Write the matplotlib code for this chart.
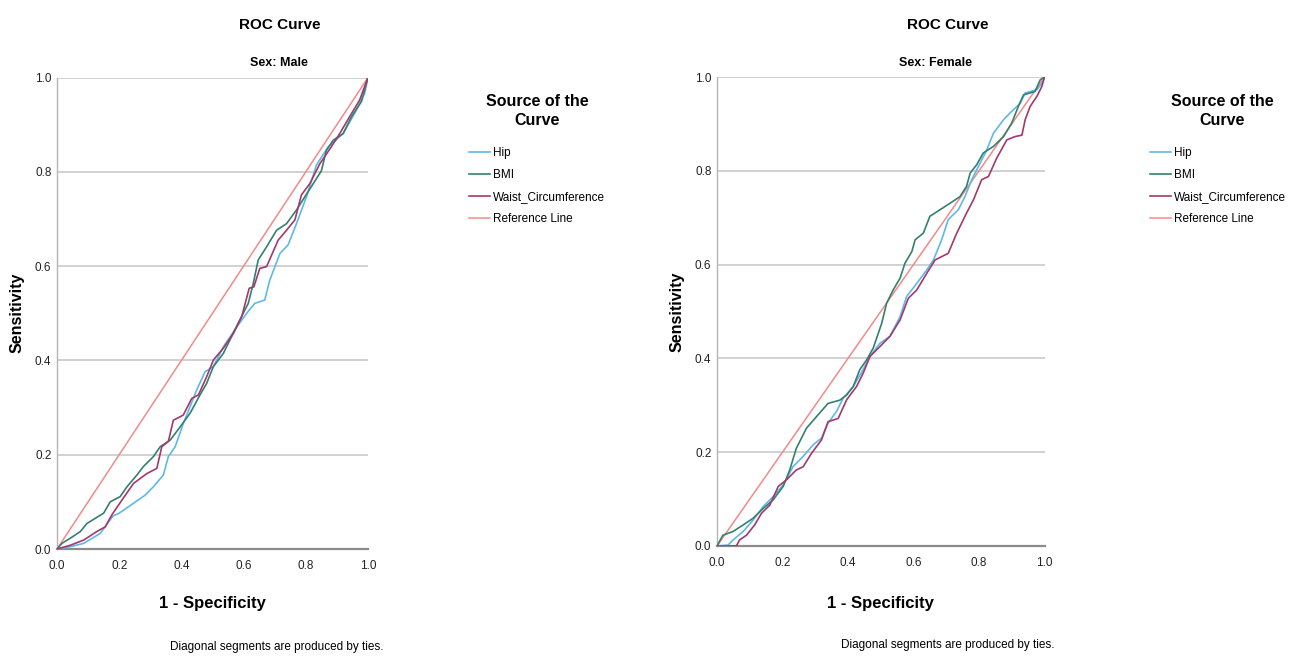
import matplotlib
matplotlib.use("Agg")
import matplotlib.pyplot as plt

plt.rcParams['font.family'] = ['Liberation Sans', 'DejaVu Sans']

# ---------------- data ----------------
tick_vals = [0.0, 0.2, 0.4, 0.6, 0.8, 1.0]
tick_labels = ["0.0", "0.2", "0.4", "0.6", "0.8", "1.0"]
series_names = ["Hip", "BMI", "Waist_Circumference", "Reference Line"]
panel_titles = ["Sex: Male", "Sex: Female"]

# Male
male_hip_x = [0, 0.043, 0.086, 0.139, 0.18, 0.20, 0.246, 0.283, 0.31, 0.342, 0.358, 0.38, 0.406, 0.428,
              0.449, 0.476, 0.503, 0.535, 0.578, 0.61, 0.636, 0.668, 0.684, 0.717, 0.743, 0.77, 0.802,
              0.834, 0.872, 0.92, 0.957, 0.989, 1.0]
male_hip_y = [0, 0.005, 0.012, 0.033, 0.07, 0.076, 0.097, 0.114, 0.132, 0.157, 0.196, 0.217, 0.266, 0.302,
              0.337, 0.376, 0.387, 0.429, 0.471, 0.50, 0.521, 0.528, 0.57, 0.627, 0.645, 0.69, 0.747,
              0.814, 0.853, 0.881, 0.924, 0.966, 1.0]
male_bmi_x = [0, 0.016, 0.043, 0.075, 0.096, 0.123, 0.15, 0.171, 0.203, 0.225, 0.257, 0.278, 0.31, 0.332,
              0.364, 0.396, 0.428, 0.46, 0.481, 0.503, 0.535, 0.561, 0.588, 0.615, 0.631, 0.647, 0.674,
              0.706, 0.738, 0.77, 0.797, 0.824, 0.85, 0.866, 0.888, 0.92, 0.947, 0.979, 1.0]
male_bmi_y = [0, 0.012, 0.023, 0.037, 0.054, 0.065, 0.076, 0.10, 0.111, 0.132, 0.157, 0.175, 0.196, 0.217,
              0.231, 0.259, 0.288, 0.327, 0.351, 0.387, 0.415, 0.45, 0.486, 0.521, 0.563, 0.613, 0.641,
              0.676, 0.69, 0.719, 0.747, 0.775, 0.802, 0.845, 0.867, 0.881, 0.917, 0.949, 1.0]
male_waist_x = [0, 0.043, 0.086, 0.128, 0.155, 0.176, 0.209, 0.246, 0.289, 0.321, 0.337, 0.358, 0.374,
                0.406, 0.433, 0.455, 0.481, 0.503, 0.535, 0.567, 0.594, 0.618, 0.633, 0.652, 0.674, 0.711,
                0.738, 0.765, 0.786, 0.813, 0.845, 0.882, 0.909, 0.941, 0.973, 1.0]
male_waist_y = [0, 0.008, 0.019, 0.037, 0.047, 0.072, 0.104, 0.139, 0.16, 0.171, 0.217, 0.228, 0.273,
                0.284, 0.319, 0.327, 0.365, 0.401, 0.426, 0.457, 0.493, 0.553, 0.556, 0.595, 0.599, 0.655,
                0.676, 0.698, 0.751, 0.775, 0.817, 0.853, 0.881, 0.917, 0.952, 1.0]

# Female
female_hip_x = [0, 0.034, 0.049, 0.08, 0.11, 0.141, 0.171, 0.202, 0.232, 0.263, 0.294, 0.319, 0.339, 0.365,
                0.385, 0.416, 0.446, 0.467, 0.497, 0.528, 0.559, 0.579, 0.61, 0.641, 0.661, 0.686, 0.706,
                0.737, 0.757, 0.778, 0.803, 0.824, 0.844, 0.875, 0.90, 0.926, 0.941, 0.977, 0.992, 1.0]
female_hip_y = [0, 0.002, 0.013, 0.031, 0.055, 0.084, 0.105, 0.13, 0.169, 0.191, 0.216, 0.23, 0.262, 0.287,
                0.315, 0.34, 0.376, 0.404, 0.432, 0.447, 0.489, 0.532, 0.56, 0.589, 0.61, 0.653, 0.696,
                0.717, 0.745, 0.781, 0.816, 0.845, 0.88, 0.909, 0.927, 0.944, 0.966, 0.973, 0.987, 1.0]
female_bmi_x = [0, 0.018, 0.049, 0.08, 0.11, 0.141, 0.171, 0.202, 0.222, 0.242, 0.273, 0.304, 0.339, 0.375,
                0.396, 0.416, 0.436, 0.457, 0.477, 0.503, 0.518, 0.538, 0.559, 0.574, 0.595, 0.605, 0.63,
                0.65, 0.681, 0.712, 0.742, 0.762, 0.773, 0.793, 0.813, 0.844, 0.875, 0.90, 0.92, 0.936,
                0.971, 0.987, 1.0]
female_bmi_y = [0, 0.023, 0.031, 0.045, 0.059, 0.08, 0.098, 0.127, 0.162, 0.208, 0.251, 0.276, 0.304, 0.311,
                0.322, 0.34, 0.376, 0.397, 0.422, 0.475, 0.518, 0.546, 0.571, 0.603, 0.628, 0.653, 0.667,
                0.703, 0.717, 0.731, 0.745, 0.767, 0.795, 0.813, 0.838, 0.852, 0.873, 0.902, 0.937, 0.962,
                0.969, 0.994, 1.0]
female_waist_x = [0, 0.059, 0.069, 0.09, 0.115, 0.136, 0.161, 0.187, 0.212, 0.242, 0.263, 0.289, 0.319,
                  0.339, 0.37, 0.396, 0.426, 0.446, 0.467, 0.497, 0.528, 0.559, 0.584, 0.61, 0.641, 0.666,
                  0.706, 0.732, 0.762, 0.783, 0.808, 0.829, 0.854, 0.885, 0.91, 0.931, 0.941, 0.956, 0.977,
                  0.992, 1.0]
female_waist_y = [0, 0.0, 0.013, 0.023, 0.045, 0.07, 0.087, 0.127, 0.141, 0.162, 0.169, 0.198, 0.226,
                  0.265, 0.272, 0.312, 0.34, 0.368, 0.404, 0.425, 0.447, 0.482, 0.528, 0.546, 0.582, 0.61,
                  0.624, 0.667, 0.71, 0.738, 0.781, 0.788, 0.827, 0.866, 0.873, 0.876, 0.909, 0.937, 0.959,
                  0.98, 1.0]

ref_x = [0.0, 1.0]
ref_y = [0.0, 1.0]

colors = {"Hip": "#5fb8e8", "BMI": "#34806f", "Waist_Circumference": "#a3386c", "Reference Line": "#f28a8a"}

# ---------------- figure ----------------
W, H = 1294, 656
fig = plt.figure(figsize=(W / 100, H / 100), dpi=100)

def fx(px):
    return px / W

def fy(py):
    return 1 - py / H

panels = [
    dict(left=57, right=368, top=77.5, bottom=549,
         data=[(male_hip_x, male_hip_y), (male_bmi_x, male_bmi_y), (male_waist_x, male_waist_y)],
         title_x=280, sub_x=279, leg_x=469, leg_title_x=537, diag_x=277, diag_y=647, ylab_x=25),
    dict(left=717, right=1044.5, top=77, bottom=546,
         data=[(female_hip_x, female_hip_y), (female_bmi_x, female_bmi_y), (female_waist_x, female_waist_y)],
         title_x=948, sub_x=935, leg_x=1150, leg_title_x=1222, diag_x=948, diag_y=645, ylab_x=685),
]

for i, p in enumerate(panels):
    ax = fig.add_axes([fx(p['left']), fy(p['bottom']), fx(p['right'] - p['left']),
                       (p['bottom'] - p['top']) / H])
    ax.set_xlim(0, 1)
    ax.set_ylim(0, 1)
    for v in tick_vals[1:]:
        ax.axhline(v, color="#c9c9c9", lw=1.2, zorder=0)
    handles = []
    for (xs, ys), name in zip(p['data'], series_names[:3]):
        h, = ax.plot(xs, ys, color=colors[name], lw=1.2, label=name, zorder=3)
        handles.append(h)
    h, = ax.plot(ref_x, ref_y, color=colors["Reference Line"], lw=1.1, label="Reference Line", zorder=2)
    handles.append(h)

    ax.set_xticks(tick_vals)
    ax.set_xticklabels(tick_labels)
    ax.set_yticks(tick_vals)
    ax.set_yticklabels(tick_labels)
    ax.tick_params(length=0, labelsize=8.5, colors="#222222")
    ax.tick_params(axis='x', pad=8)
    ax.tick_params(axis='y', pad=4)
    for s in ["top", "right"]:
        ax.spines[s].set_visible(False)
    ax.spines["left"].set_color("#b5b5b5")
    ax.spines["left"].set_linewidth(1.0)
    ax.spines["bottom"].set_color("#8c8c8c")
    ax.spines["bottom"].set_linewidth(1.6)

    ax.set_ylabel("Sensitivity", fontsize=11.5, fontweight="bold")
    ax.yaxis.set_label_coords(-(p['left'] - p['ylab_x']) / (p['right'] - p['left']), 0.5)
    ax.set_xlabel("1 - Specificity", fontsize=12, fontweight="bold")
    ax.xaxis.set_label_coords(0.5, -(596 - p['bottom']) / (p['bottom'] - p['top']))

    fig.text(fx(p['title_x']), fy(25), "ROC Curve", ha="center", va="center", fontsize=11,
             fontweight="bold")
    fig.text(fx(p['sub_x']), fy(63), panel_titles[i], ha="center", va="center", fontsize=9,
             fontweight="bold")
    fig.text(fx(p['diag_x']), fy(p['diag_y']), "Diagonal segments are produced by ties.",
             ha="center", va="center", fontsize=8.5)

    fig.text(fx(p['leg_title_x']), fy(111), "Source of the\nCurve", ha="center", va="center",
             fontsize=11.5, fontweight="bold", linespacing=1.4)
    fig.legend(handles, series_names, loc="upper left",
               bbox_to_anchor=(fx(p['leg_x']), fy(147)), frameon=False,
               fontsize=8.5, handlelength=1.75, handletextpad=0.3, labelspacing=0.85,
               borderpad=0, borderaxespad=0)

fig.savefig("out.png", dpi=100)
